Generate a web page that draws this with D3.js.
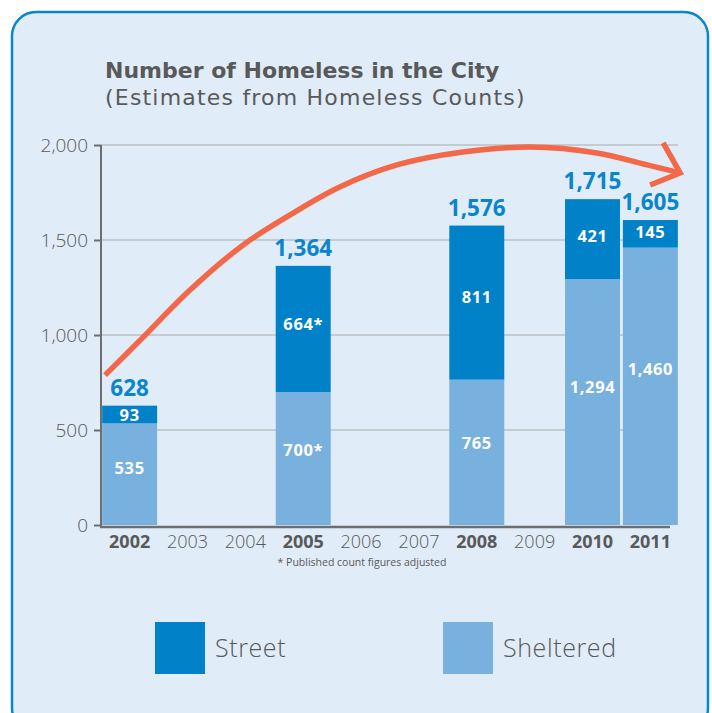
<!DOCTYPE html>
<html>
<head>
<meta charset="utf-8">
<script src="https://cdn.jsdelivr.net/npm/d3@7"></script>
<style>
  body { margin: 0; background: #ffffff; }
  svg { display: block; font-family: "Open Sans", sans-serif; }
</style>
</head>
<body>
<div id="chart"></div>
<script>
var years = ["2002", "2003", "2004", "2005", "2006", "2007", "2008", "2009", "2010", "2011"];
var boldYears = ["2002", "2005", "2008", "2010", "2011"];
var barYears = ["2002", "2005", "2008", "2010", "2011"];
var street = [93, 664, 811, 421, 145];
var sheltered = [535, 700, 765, 1294, 1460];
var totals = [628, 1364, 1576, 1715, 1605];
var adjusted = [false, true, false, false, false];
var yTicks = [0, 500, 1000, 1500, 2000];

// trend arrow, in (year position, count) units
var arrowX = [0.07, 0.73, 1.54, 2.46, 3.27, 4.13, 5.12, 6.26, 7.42, 8.58, 9.45, 10.02];
var arrowY = [789, 989, 1237, 1474, 1632, 1779, 1895, 1963, 1989, 1958, 1895, 1853];

var width = 712, height = 713;
var streetColor = "#0081c8", shelterColor = "#78b0de";
var textColor = "#58595b";

var svg = d3.select("#chart")
    .append("svg")
    .attr("width", width)
    .attr("height", height);

// panel
svg.append("rect")
    .attr("x", 12).attr("y", 12)
    .attr("width", 696).attr("height", 720)
    .attr("rx", 24).attr("ry", 24)
    .attr("fill", "#e0ecf7")
    .attr("stroke", "#0a84cc")
    .attr("stroke-width", 2.5);

svg.append("text")
    .attr("x", 105).attr("y", 78)
    .attr("font-family", "DejaVu Sans, sans-serif")
    .attr("font-size", 22).attr("font-weight", "bold")
    .attr("fill", textColor)
    .text("Number of Homeless in the City");

svg.append("text")
    .attr("x", 105).attr("y", 105)
    .attr("font-family", "DejaVu Sans, sans-serif")
    .attr("font-size", 22)
    .attr("letter-spacing", 1.2)
    .attr("fill", textColor)
    .text("(Estimates from Homeless Counts)");

var xScale = d3.scaleBand()
    .domain(years)
    .range([101, 679])
    .paddingInner(0.05)
    .paddingOuter(0.02);

var yScale = d3.scaleLinear()
    .domain([0, 2000])
    .range([525, 145]);

// gridlines
svg.append("g")
    .selectAll("line")
    .data(yTicks.slice(1))
    .join("line")
    .attr("x1", 101).attr("x2", 678)
    .attr("y1", function(d) { return yScale(d); })
    .attr("y2", function(d) { return yScale(d); })
    .attr("stroke", "#a7a9ac")
    .attr("stroke-width", 1.2);

// y axis
var yAxis = svg.append("g")
    .attr("transform", "translate(101,0)")
    .call(d3.axisLeft(yScale).tickValues(yTicks).tickSize(7).tickPadding(6).tickFormat(d3.format(",")));
yAxis.select(".domain").attr("stroke", "#6d6e71").attr("stroke-width", 2).attr("d", "M0,145V527");
yAxis.selectAll(".tick line").attr("stroke", "#6d6e71").attr("stroke-width", 2);
yAxis.selectAll(".tick text")
    .attr("fill", textColor)
    .attr("font-size", 19)
    .attr("font-family", "Open Sans, sans-serif")
    .attr("font-weight", 300);

// bars
var bars = svg.append("g");
barYears.forEach(function(yr, i) {
    var x = xScale(yr), w = xScale.bandwidth();
    bars.append("rect")
        .attr("x", x).attr("width", w)
        .attr("y", yScale(sheltered[i]))
        .attr("height", yScale(0) - yScale(sheltered[i]))
        .attr("fill", shelterColor);
    bars.append("rect")
        .attr("x", x).attr("width", w)
        .attr("y", yScale(totals[i]))
        .attr("height", yScale(sheltered[i]) - yScale(totals[i]))
        .attr("fill", streetColor);

    var cx = x + w / 2;
    var sH = yScale(sheltered[i]) - yScale(totals[i]);
    var sMid = (yScale(sheltered[i]) + yScale(totals[i])) / 2;
    var hMid = (yScale(0) + yScale(sheltered[i])) / 2;
    var hH = yScale(0) - yScale(sheltered[i]);

    bars.append("text")
        .attr("x", cx).attr("y", sMid - Math.min(5, sH * 0.04) + (sH < 25 ? 1 : 0))
        .attr("dy", "0.35em")
        .attr("text-anchor", "middle")
        .attr("font-size", 16.5).attr("font-weight", "bold")
        .attr("letter-spacing", 0.6)
        .attr("fill", "#ffffff")
        .text(d3.format(",")(street[i]) + (adjusted[i] ? "*" : ""));

    bars.append("text")
        .attr("x", cx).attr("y", hMid - hH * 0.06)
        .attr("dy", "0.35em")
        .attr("text-anchor", "middle")
        .attr("font-size", 16.5).attr("font-weight", "bold")
        .attr("letter-spacing", 0.6)
        .attr("fill", "#ffffff")
        .text(d3.format(",")(sheltered[i]) + (adjusted[i] ? "*" : ""));

    bars.append("text")
        .attr("x", cx).attr("y", yScale(totals[i]) - 10)
        .attr("text-anchor", "middle")
        .attr("font-size", 22.5).attr("font-weight", "bold")
        .attr("fill", "#0a84cc")
        .text(d3.format(",")(totals[i]));
});

// x axis
var xAxis = svg.append("g")
    .attr("transform", "translate(0,527)")
    .call(d3.axisBottom(xScale).tickSize(0).tickPadding(8));
xAxis.select(".domain").attr("stroke", "#6d6e71").attr("stroke-width", 2.5).attr("d", "M100,0H670");
xAxis.selectAll(".tick text")
    .attr("fill", textColor)
    .attr("font-size", 18)
    .attr("font-family", "Open Sans, sans-serif")
    .attr("font-weight", function(d) { return boldYears.indexOf(d) >= 0 ? "bold" : 300; });

svg.append("text")
    .attr("x", 362).attr("y", 566)
    .attr("text-anchor", "middle")
    .attr("font-size", 10.5)
    .attr("fill", textColor)
    .text("* Published count figures adjusted");

// trend arrow
var ax = d3.scaleLinear().domain([0, 10]).range([101, 679]);
var arrowPts = arrowX.map(function(d, i) { return [ax(d), yScale(arrowY[i])]; });
svg.append("path")
    .attr("d", d3.line().curve(d3.curveCatmullRom)(arrowPts))
    .attr("fill", "none")
    .attr("stroke", "#f26849")
    .attr("stroke-width", 5.5)
    .attr("stroke-linecap", "butt");
var tip = arrowPts[arrowPts.length - 1];
svg.append("path")
    .attr("d", d3.line()([[tip[0] - 17, tip[1] - 30], tip, [tip[0] - 30, tip[1] + 12]]))
    .attr("fill", "none")
    .attr("stroke", "#f26849")
    .attr("stroke-width", 5.5)
    .attr("stroke-linejoin", "miter");

// legend
var legend = [["Street", streetColor, 155], ["Sheltered", shelterColor, 443]];
legend.forEach(function(l) {
    svg.append("rect")
        .attr("x", l[2]).attr("y", 622)
        .attr("width", 50).attr("height", 52)
        .attr("fill", l[1]);
    svg.append("text")
        .attr("x", l[2] + 60).attr("y", 657)
        .attr("font-size", 25).attr("font-weight", 300)
        .attr("letter-spacing", 0.6)
        .attr("fill", textColor)
        .text(l[0]);
});
</script>
</body>
</html>
